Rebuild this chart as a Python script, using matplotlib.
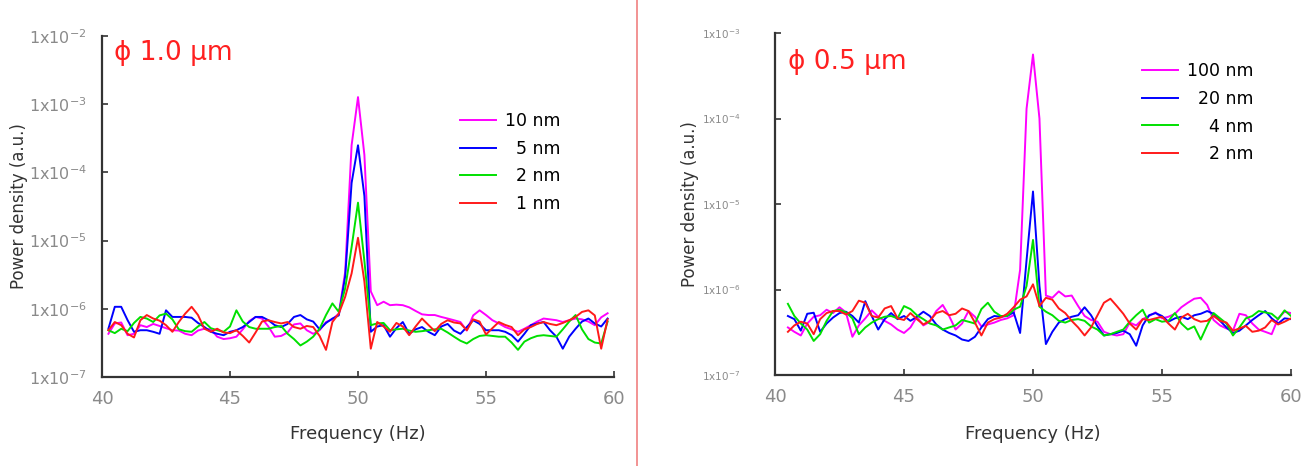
import matplotlib
matplotlib.use('Agg')
import numpy as np
import matplotlib.pyplot as plt
from matplotlib.lines import Line2D
from matplotlib.ticker import FixedLocator, FuncFormatter, NullLocator

plt.rcParams['font.family'] = ['DejaVu Sans']
plt.rcParams['mathtext.default'] = 'regular'

# ---------------- data (power density in units of 1e-7 a.u.) ----------------
UNIT = 1e-7
freq_left = np.arange(40.25, 59.76, 0.25)    # Hz, 79 samples
freq_right = np.arange(40.5, 60.01, 0.25)    # Hz, 79 samples

labels_left = ['10 nm', '\u20075 nm', '\u20072 nm', '\u20071 nm']
labels_right = ['100 nm', '\u200720 nm', '\u2007\u20074 nm', '\u2007\u20072 nm']
colors = ['#ff00ff', '#0000ff', '#00e000', '#ff1a1a']

left_10nm = [4.3, 6.1, 6.3, 4.1, 4.3, 5.75, 5.4, 6.0, 5.6, 5.2,
             4.85, 4.8, 4.3, 4.1, 4.8, 5.1, 5.0, 3.9, 3.6, 3.7,
             3.9, 5.0, 6.6, 7.6, 7.2, 5.5, 3.9, 4.0, 4.5, 5.9,
             6.1, 4.85, 4.3, 4.85, 6.4, 7.0, 8.5, 35, 2500,
             12700,
             1800, 18, 11.3, 12.7, 11.3, 11.5, 11.3, 10.5, 9.3, 8.3,
             8.1, 8.1, 7.6, 7.2, 6.8, 6.4, 4.8, 8.0, 9.5, 8.1,
             6.8, 6.1, 5.4, 5.0, 4.6, 5.1, 5.75, 6.5, 7.2, 7.0,
             6.8, 6.4, 6.8, 7.2, 7.0, 6.5, 5.75, 7.5, 8.6]
left_5nm = [5.1, 10.7, 10.7, 6.8, 4.6, 4.85, 4.85, 4.6, 4.3, 9.5,
            7.6, 7.6, 7.6, 7.4, 6.2, 5.4, 4.6, 4.3, 4.1, 4.6,
            4.85, 5.4, 6.4, 7.6, 7.6, 6.8, 5.75, 5.4, 6.0, 7.6,
            8.1, 7.0, 6.5, 5.0, 6.2, 7.2, 8.0, 30, 700,
            2500,
            450, 4.6, 5.5, 5.75, 3.9, 5.2, 6.4, 4.3, 5.0, 5.4,
            4.6, 4.1, 5.5, 6.0, 4.8, 4.3, 5.4, 6.8, 6.0, 4.85,
            4.85, 4.85, 4.6, 4.1, 3.3, 4.3, 5.75, 6.1, 6.4, 4.85,
            3.9, 2.6, 3.9, 5.1, 6.5, 7.2, 6.1, 5.5, 7.2]
left_2nm = [4.85, 4.4, 5.1, 4.7, 6.2, 7.6, 7.2, 6.4, 8.0, 8.5,
            7.0, 5.0, 4.7, 4.6, 5.5, 6.4, 5.2, 4.85, 4.6, 5.5,
            9.5, 6.5, 5.4, 5.1, 5.1, 5.1, 5.4, 5.6, 4.3, 3.6,
            2.9, 3.3, 3.9, 5.1, 8.1, 12, 9, 20, 80,
            360,
            50, 5.75, 6.1, 6.2, 4.85, 5.0, 5.1, 4.8, 4.6, 4.7,
            4.85, 5.0, 5.1, 4.5, 3.9, 3.4, 3.1, 3.6, 4.0, 4.1,
            4.0, 3.9, 3.9, 3.2, 2.5, 3.3, 3.7, 4.0, 4.1, 4.0,
            3.9, 5.0, 6.5, 8.1, 5.0, 3.6, 3.2, 3.1, 6.5]
left_1nm = [4.85, 6.4, 5.75, 4.3, 3.8, 6.8, 8.1, 7.2, 6.7, 5.75,
            4.6, 6.4, 8.5, 10.7, 8.1, 5.1, 4.6, 5.1, 4.5, 4.4,
            4.85, 4.0, 3.2, 4.5, 6.5, 6.8, 6.4, 6.1, 6.4, 5.4,
            5.1, 5.6, 5.4, 4.0, 2.5, 6.4, 8.5, 15, 33,
            110,
            25, 2.6, 6.4, 5.5, 4.6, 6.2, 5.5, 4.1, 5.5, 7.2,
            5.8, 4.7, 6.0, 6.8, 6.3, 6.1, 4.85, 7.0, 6.5, 4.2,
            5.2, 6.4, 5.8, 5.4, 4.1, 5.0, 5.4, 6.0, 6.4, 6.0,
            5.75, 6.2, 6.8, 7.6, 9.0, 9.5, 8.0, 2.6, 7.0]

right_100nm = [3.6, 3.2, 2.9, 4.0, 4.8, 5.0, 5.8, 5.3, 6.2, 5.4,
               2.8, 3.8, 4.6, 5.7, 4.8, 4.3, 3.9, 3.4, 3.1, 3.6,
               4.8, 3.8, 4.2, 5.6, 6.6, 4.9, 3.4, 4.0, 5.6, 4.8,
               3.7, 3.9, 4.1, 4.4, 4.6, 5.0, 17, 1300,
               5600,
               1000, 8.5, 8.0, 9.5, 8.3, 8.5, 6.4, 4.9, 4.4, 4.2,
               3.2, 3.0, 2.9, 3.0, 4.1, 3.8, 4.5, 4.9, 5.4, 4.6,
               4.8, 5.2, 6.2, 7.0, 7.8, 8.0, 6.6, 4.4, 3.8, 3.5,
               3.3, 5.2, 5.0, 4.0, 3.4, 3.2, 3.0, 4.6, 5.5, 5.3]
right_20nm = [4.9, 4.5, 3.3, 5.2, 5.35, 3.2, 4.0, 4.7, 5.3, 5.5,
              4.9, 4.1, 7.3, 4.9, 3.4, 4.5, 5.3, 4.5, 4.9, 4.3,
              4.8, 5.5, 4.9, 3.9, 3.4, 3.1, 2.9, 2.6, 2.5, 2.8,
              3.6, 4.5, 4.9, 4.8, 4.9, 5.4, 3.1, 22,
              140,
              11, 2.3, 3.2, 4.1, 4.5, 4.8, 5.0, 6.2, 5.0, 3.7,
              2.9, 3.0, 3.1, 3.3, 3.0, 2.2, 3.8, 5.0, 5.3, 4.9,
              4.2, 4.6, 4.8, 4.5, 5.0, 5.2, 5.6, 5.2, 4.3, 3.6,
              3.1, 3.3, 3.8, 4.4, 5.0, 5.6, 4.6, 4.0, 4.6, 4.5]
right_4nm = [6.8, 4.9, 4.0, 3.4, 2.5, 3.0, 4.3, 5.6, 5.8, 5.4,
             4.6, 3.0, 3.6, 4.1, 4.5, 4.8, 4.9, 4.6, 6.4, 5.9,
             5.0, 4.5, 4.0, 3.8, 3.4, 3.6, 3.8, 4.4, 4.2, 4.0,
             5.9, 7.0, 5.5, 4.9, 4.9, 5.8, 6.3, 11,
             38,
             6.3, 5.5, 5.0, 4.3, 4.1, 4.4, 4.5, 4.3, 3.7, 3.4,
             2.9, 3.0, 3.2, 3.4, 4.2, 5.0, 5.8, 4.1, 4.5, 4.2,
             4.3, 5.3, 4.0, 3.4, 3.7, 2.6, 3.8, 5.3, 4.6, 4.0,
             2.9, 3.6, 4.6, 4.9, 5.6, 5.4, 5.2, 4.5, 5.7, 4.9]
right_2nm = [3.2, 3.8, 4.2, 4.0, 3.0, 4.5, 5.3, 5.6, 5.6, 5.1,
             5.6, 7.4, 7.0, 4.9, 4.7, 6.0, 6.4, 4.6, 4.4, 5.3,
             4.5, 3.9, 4.3, 5.3, 5.6, 5.0, 5.2, 6.0, 5.6, 4.1,
             2.9, 4.1, 4.5, 4.7, 5.2, 6.2, 7.6, 8.3,
             11.5,
             6.4, 8.0, 7.6, 6.0, 5.3, 4.3, 3.6, 2.9, 3.6, 5.0,
             7.0, 7.8, 6.4, 5.2, 4.0, 3.4, 4.5, 4.4, 4.6, 4.8,
             4.0, 3.4, 4.7, 5.2, 4.5, 4.2, 4.3, 4.9, 4.3, 4.1,
             3.3, 3.5, 3.75, 3.2, 3.3, 3.6, 4.4, 3.9, 4.2, 4.6]

x_ticks = [40, 45, 50, 55, 60]
y_ticks_left = [1e-7, 1e-6, 1e-5, 1e-4, 1e-3, 1e-2]
y_ticks_right = [1e-7, 1e-6, 1e-5, 1e-4, 1e-3]
title_left = '\u03d5 1.0 \u03bcm'
title_right = '\u03d5 0.5 \u03bcm'

# ---------------- figure ----------------
W, H = 1305, 466
fig = plt.figure(figsize=(W / 100, H / 100), dpi=100)
fig.patch.set_facecolor('white')

def px_axes(x0, x1, ytop, ybot):
    return fig.add_axes([x0 / W, 1 - ybot / H, (x1 - x0) / W, (ybot - ytop) / H])

ax1 = px_axes(102, 614, 36, 377)
ax2 = px_axes(775, 1291, 33, 375)

def fmt(v, pos):
    e = int(round(np.log10(v)))
    return '1x10$^{%d}$' % e

def style(ax, yticks, ysize, ypad, ylabel_x, xlabel_y):
    ax.set_yscale('log')
    ax.set_xlim(40, 60)
    ax.set_ylim(yticks[0], yticks[-1])
    for s in ['top', 'right']:
        ax.spines[s].set_visible(False)
    for s in ['left', 'bottom']:
        ax.spines[s].set_color('#333333')
        ax.spines[s].set_linewidth(1.6)
    ax.xaxis.set_major_locator(FixedLocator(x_ticks))
    ax.yaxis.set_major_locator(FixedLocator(yticks))
    ax.yaxis.set_minor_locator(NullLocator())
    ax.yaxis.set_major_formatter(FuncFormatter(fmt))
    ax.tick_params(axis='both', direction='in', length=4, width=1.2, color='#333333')
    ax.tick_params(axis='x', labelsize=13, labelcolor='#8a8a8a', pad=9)
    ax.tick_params(axis='y', labelsize=ysize, labelcolor='#8a8a8a', pad=ypad)
    ax.set_xlabel('Frequency (Hz)', fontsize=13, color='#333333')
    ax.set_ylabel('Power density (a.u.)', fontsize=12, color='#333333')
    ax.xaxis.set_label_coords(0.5, xlabel_y)
    ax.yaxis.set_label_coords(ylabel_x, 0.5)

style(ax1, y_ticks_left, 11.5, 11, -0.145, -0.141)
style(ax2, y_ticks_right, 7.5, 25, -0.148, -0.146)

series_left = [left_10nm, left_5nm, left_2nm, left_1nm]
series_right = [right_100nm, right_20nm, right_4nm, right_2nm]

for vals, c, lab in zip(series_left, colors, labels_left):
    ax1.plot(freq_left, np.array(vals) * UNIT, color=c, lw=1.4, label=lab)
for vals, c, lab in zip(series_right, colors, labels_right):
    ax2.plot(freq_right, np.array(vals) * UNIT, color=c, lw=1.4, label=lab)

leg_kw = dict(frameon=False, fontsize=12.5, handlelength=2.1, handletextpad=0.5,
              labelspacing=0.55, borderpad=0, borderaxespad=0, loc='upper left')
ax1.legend(bbox_to_anchor=(0.699, 0.776), **leg_kw)
ax2.legend(bbox_to_anchor=(0.711, 0.914), **leg_kw)

ax1.text(0.024, 0.95, title_left, transform=ax1.transAxes, color='#ff2020',
         fontsize=19, ha='left', va='center')
ax2.text(0.025, 0.915, title_right, transform=ax2.transAxes, color='#ff2020',
         fontsize=19, ha='left', va='center')

# separator line between the panels
fig.add_artist(Line2D([637 / W, 637 / W], [0, 1], transform=fig.transFigure,
                      color='#f08080', lw=1.2))

fig.savefig('out.png', dpi=100)
